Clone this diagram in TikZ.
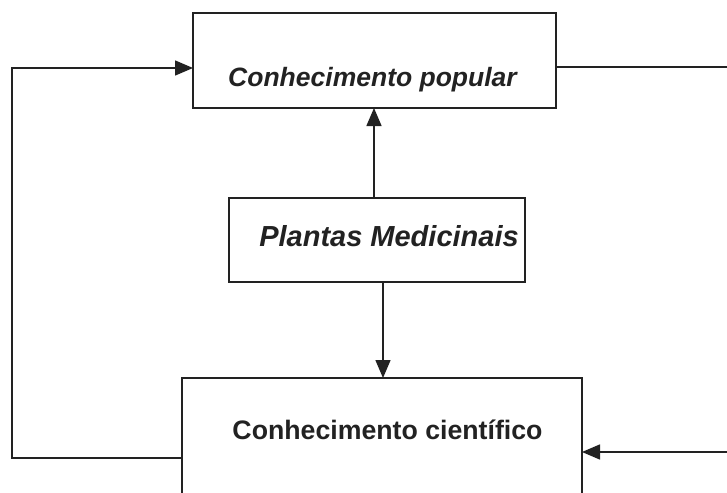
\documentclass[tikz,border=0pt]{standalone}
\usepackage{fontspec}
\setmainfont{Liberation Sans}
\usetikzlibrary{arrows.meta}
\definecolor{ink}{HTML}{222222}
\begin{document}
\begin{tikzpicture}[x=1pt,y=-1pt,
  box/.style={draw=ink, line width=1.8pt, inner sep=0pt, outer sep=0pt},
  lbl/.style={inner sep=0pt, text=ink, anchor=base},
  conn/.style={draw=ink, line width=1.5pt},
  arr/.style={conn, -{Triangle[length=18pt,width=15pt]}}]
\useasboundingbox (0,0) rectangle (727,492);
\clip (0,0) rectangle (727,492);
\fill[white] (0,0) rectangle (727,492);
% boxes
\node[box, minimum width=363pt, minimum height=95pt] (top) at (374.5,60.5) {};
\node[box, minimum width=296pt, minimum height=84pt] (mid) at (377,240) {};
\node[box, minimum width=400pt, minimum height=134pt] (bot) at (382,445) {};
% labels
\node[lbl, font=\fontsize{26.5}{30}\selectfont\bfseries\itshape] (ttop) at (372.5,87) {Conhecimento popular};
\node[lbl, font=\fontsize{29}{33}\selectfont\bfseries\itshape] (tmid) at (389,246) {Plantas Medicinais};
\node[lbl, font=\fontsize{26.7}{30}\selectfont\bfseries] (tbot) at (387.5,439) {Conhecimento científico};
% helper coordinates
\coordinate (lb) at (12,458);
\coordinate (lt) at (12,68);
\coordinate (rt) at (727,67);
\coordinate (rb) at (727,452);
\coordinate (ax) at (374,0);
\coordinate (bx) at (383,0);
% connectors
\draw[arr] (bot.west |- lb) -- (lb) -- (lt) -- (top.west |- lt);
\draw[conn] (top.east |- rt) -- (rt);
\draw[arr] (rb) -- (bot.east |- rb);
\draw[arr] (mid.north -| ax) -- (top.south -| ax);
\draw[arr] (mid.south -| bx) -- (bot.north -| bx);
\end{tikzpicture}
\end{document}
